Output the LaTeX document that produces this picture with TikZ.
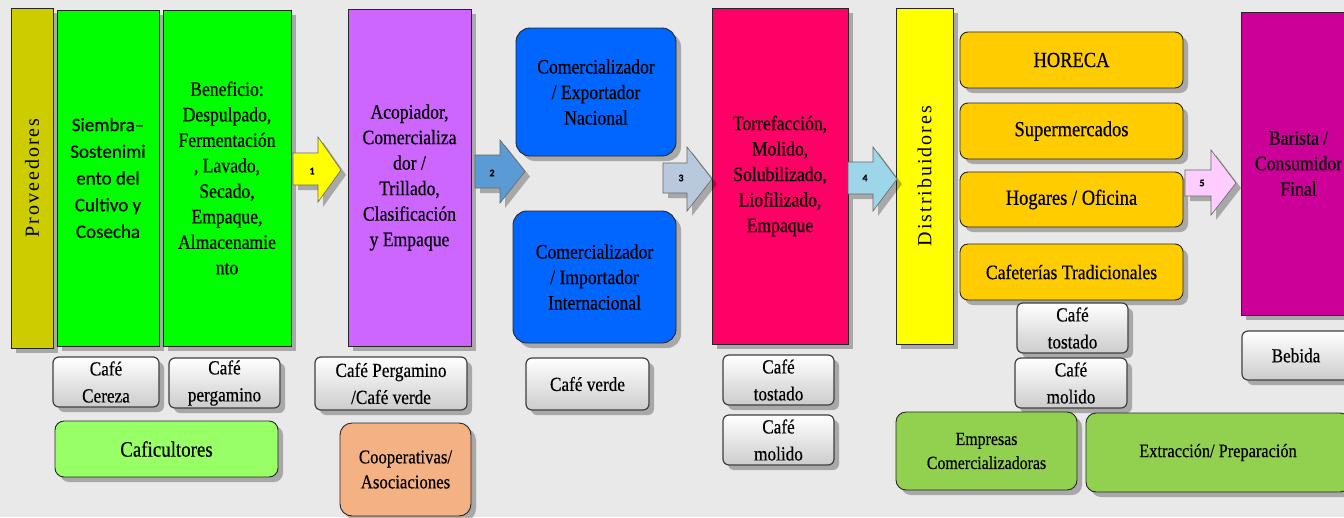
\documentclass[tikz,border=0pt]{standalone}
\usepackage{fontspec}
\setmainfont{Liberation Serif}[FakeStretch=0.86, FakeBold=0.4]
\newfontfamily\calib{Carlito}[FakeBold=0.3]
\newfontfamily\rotf{Liberation Serif}[LetterSpace=10]
\usetikzlibrary{shadows}
\definecolor{bgc}{HTML}{E9E9E9}
\definecolor{provc}{HTML}{CCCC00}
\definecolor{grn}{HTML}{00FF00}
\definecolor{vio}{HTML}{CC66FF}
\definecolor{blu}{HTML}{0066FF}
\definecolor{red}{HTML}{FF0066}
\definecolor{yel}{HTML}{FFFF00}
\definecolor{ora}{HTML}{FFCC00}
\definecolor{mag}{HTML}{CC0099}
\definecolor{lgrn}{HTML}{99FF66}
\definecolor{sal}{HTML}{F4B183}
\definecolor{ogrn}{HTML}{92D050}
\definecolor{ar1}{HTML}{FFFF00}
\definecolor{ar2}{HTML}{5B9BD5}
\definecolor{ar3}{HTML}{B8C9DD}
\definecolor{ar4}{HTML}{9DD6E8}
\definecolor{ar5}{HTML}{FFCCFF}
\tikzset{
  shad/.style={drop shadow={shadow xshift=5pt, shadow yshift=-5pt, opacity=0.28, fill=black}},
  bigbox/.style={draw=black!85, line width=0.9pt, inner sep=1pt, align=center, text=black, shad},
  rbox/.style={bigbox, rounded corners=#1},
  labbox/.style={draw=black!75, line width=1.2pt, rounded corners=6pt, top color=white, bottom color=gray!40, align=center, inner sep=0pt, font=\fontsize{20}{27}\selectfont, shad},
  txt/.style={font=\fontsize{20.5}{25.5}\selectfont},
  blockarr/.style={draw=black!60, line width=0.6pt, shad},
  arrnum/.style={font=\calib\bfseries\fontsize{10}{10}\selectfont, inner sep=0pt}
}
\begin{document}
\begin{tikzpicture}[x=1pt,y=-1pt]
\clip (0,0) rectangle (1344,517);
\fill[bgc] (0,0) rectangle (1344,517);

% main column boxes
\node[bigbox, fill=provc, minimum width=42pt, minimum height=340pt] (prov) at (32,178)
  {\rotatebox{90}{\rotf\fontsize{20}{24}\selectfont Proveedores}};
\node[bigbox, fill=grn, minimum width=102pt, minimum height=336pt,
  font=\calib\fontsize{19}{26.7}\selectfont] (sie) at (108,178)
  {Siembra–\\Sostenimi\\ento del\\Cultivo y\\Cosecha};
\node[bigbox, fill=grn, minimum width=128pt, minimum height=336pt, txt] (ben) at (227,178)
  {Beneficio:\\Despulpado,\\Fermentación\\, Lavado,\\Secado,\\Empaque,\\Almacenamie\\nto};
\node[bigbox, fill=vio, minimum width=123pt, minimum height=337pt, txt] (aco) at (409.5,177.5)
  {Acopiador,\\Comercializa\\dor /\\Trillado,\\Clasificación\\y Empaque};
\node[rbox=14pt, fill=blu, minimum width=160pt, minimum height=128pt, txt] (exp) at (596,92)
  {Comercializador\\/ Exportador\\Nacional};
\node[rbox=14pt, fill=blu, minimum width=163pt, minimum height=132pt, txt] (imp) at (594.5,277)
  {Comercializador\\/ Importador\\Internacional};
\node[bigbox, fill=red, minimum width=136pt, minimum height=336pt, txt] (tor) at (780,176)
  {Torrefacción,\\Molido,\\Solubilizado,\\Liofilizado,\\Empaque};
\node[bigbox, fill=yel, minimum width=57pt, minimum height=336pt] (dis) at (924.5,176)
  {\rotatebox{90}{\rotf\fontsize{20}{24}\selectfont Distribuidores}};
\node[rbox=8pt, fill=ora, minimum width=223pt, minimum height=56pt, font=\fontsize{21.5}{26}\selectfont] (hor) at (1071.5,60) {HORECA};
\node[rbox=8pt, fill=ora, minimum width=223pt, minimum height=56pt, font=\fontsize{21.5}{26}\selectfont] (sup) at (1071.5,131) {Supermercados};
\node[rbox=8pt, fill=ora, minimum width=223pt, minimum height=55pt, font=\fontsize{21.5}{26}\selectfont] (hog) at (1071.5,199.5) {Hogares / Oficina};
\node[rbox=8pt, fill=ora, minimum width=223pt, minimum height=56pt, font=\fontsize{20.5}{26}\selectfont] (cafet) at (1071.5,272) {Cafeterías Tradicionales};
\node[bigbox, fill=mag, minimum width=115pt, minimum height=303pt, txt] (bar) at (1298.5,163.5)
  {Barista /\\Consumidor\\Final};

% product labels
\node[labbox, minimum width=106pt, minimum height=50pt] (cce) at (106,382) {Café\\Cereza};
\node[labbox, minimum width=111pt, minimum height=50pt] (cpe) at (224.5,383) {Café\\pergamino};
\node[labbox, minimum width=152pt, minimum height=53pt] (cpv) at (391,383.5) {Café Pergamino\\/Café verde};
\node[labbox, minimum width=123pt, minimum height=52pt] (cv) at (587.5,384) {Café verde};
\node[labbox, minimum width=111pt, minimum height=50pt] (ct1) at (778.5,380) {Café\\tostado};
\node[labbox, minimum width=111pt, minimum height=50pt] (cm1) at (778.5,440) {Café\\molido};
\node[labbox, minimum width=111pt, minimum height=50pt] (ct2) at (1072.5,328) {Café\\tostado};
\node[labbox, minimum width=112pt, minimum height=50pt] (cm2) at (1071,383) {Café\\molido};
\node[labbox, minimum width=108pt, minimum height=49pt] (beb) at (1296,355.5) {Bebida};

% actor boxes
\node[rbox=9pt, fill=lgrn, minimum width=223pt, minimum height=56pt, font=\fontsize{22}{26}\selectfont] (cafi) at (166.5,449) {Caficultores};
\node[rbox=12pt, fill=sal, minimum width=131pt, minimum height=93pt, font=\fontsize{19.5}{25}\selectfont] (coop) at (405.5,469.5) {Cooperativas/\\Asociaciones};
\node[rbox=10pt, fill=ogrn, minimum width=181pt, minimum height=78pt, font=\fontsize{18.5}{24}\selectfont] (emp) at (986.5,451) {Empresas\\Comercializadoras};
\node[rbox=10pt, fill=ogrn, minimum width=264pt, minimum height=79pt, font=\fontsize{19}{24}\selectfont] (ext) at (1218,452.5) {Extracción/ Preparación};

% block arrows
\draw[blockarr, fill=ar1] (293,153) -- (318,153) -- (318,137) -- (341,170) -- (318,202) -- (318,185) -- (293,185) -- cycle;
\node[arrnum] (n1) at (312,171) {1};
\draw[blockarr, fill=ar2] (475,155) -- (500,155) -- (500,140) -- (525,171.5) -- (500,203) -- (500,188) -- (475,188) -- cycle;
\node[arrnum] (n2) at (492,173) {2};
\draw[blockarr, fill=ar3] (663,163) -- (687,163) -- (687,147) -- (712,179) -- (687,211) -- (687,193) -- (663,193) -- cycle;
\node[arrnum] (n3) at (681,178) {3};
\draw[blockarr, fill=ar4] (848,162) -- (873,162) -- (873,147) -- (897,179) -- (873,211) -- (873,194) -- (848,194) -- cycle;
\node[arrnum] (n4) at (865,178) {4};
\draw[blockarr, fill=ar5] (1185,170) -- (1211,170) -- (1211,150) -- (1236,183) -- (1211,215) -- (1211,196) -- (1185,196) -- cycle;
\node[arrnum] (n5) at (1202,183) {5};
\end{tikzpicture}
\end{document}
